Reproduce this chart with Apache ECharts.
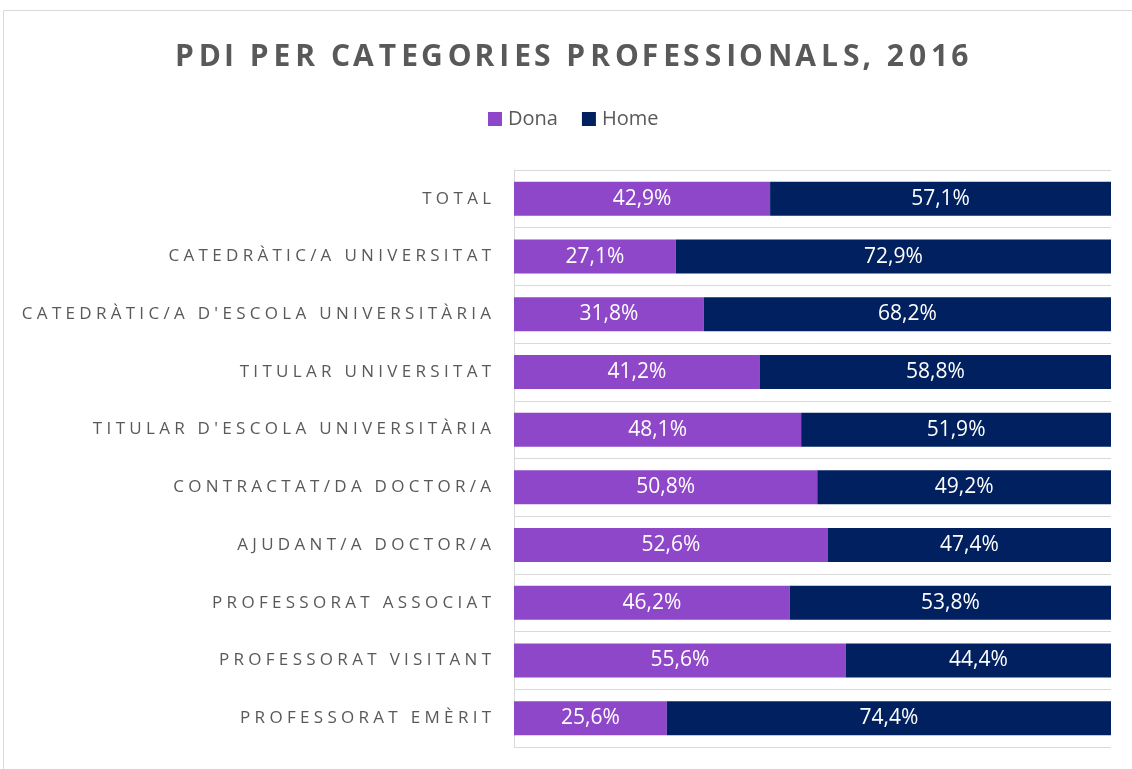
<!DOCTYPE html>
<html><head><meta charset="utf-8">
<script src="https://cdn.jsdelivr.net/npm/echarts@6/dist/echarts.min.js"></script>
<style>html,body{margin:0;padding:0;background:#fff}#c{width:1132px;height:769px}</style>
</head><body><div id="c"></div>
<script>
const titleText = "PDI PER CATEGORIES PROFESSIONALS, 2016";
const categories = ["TOTAL","CATEDRÀTIC/A UNIVERSITAT","CATEDRÀTIC/A D'ESCOLA UNIVERSITÀRIA","TITULAR UNIVERSITAT","TITULAR D'ESCOLA UNIVERSITÀRIA","CONTRACTAT/DA DOCTOR/A","AJUDANT/A DOCTOR/A","PROFESSORAT ASSOCIAT","PROFESSORAT VISITANT","PROFESSORAT EMÈRIT"];
const dona = [42.9,27.1,31.8,41.2,48.1,50.8,52.6,46.2,55.6,25.6];
const home = [57.1,72.9,68.2,58.8,51.9,49.2,47.4,53.8,44.4,74.4];
const seriesNames = ["Dona","Home"];

// emulate letter-spacing with combinations of narrow space characters
const mctx = document.createElement('canvas').getContext('2d');
const SP = ['\u200A','\u2009','\u2006','\u2008','\u2005','\u2004',' '];
function spaced(s, font, ls) {
  mctx.font = font;
  const w = c => mctx.measureText(c.repeat(10)).width / 10;
  const units = SP.map(c => ({c, w: w(c)})).filter(u => u.w > 0.3);
  const combos = [{c:'', w:0}];
  units.forEach(a => { combos.push(a); units.forEach(b => combos.push({c:a.c+b.c, w:a.w+b.w})); });
  const chars = Array.from(s);
  let out = chars[0], err = 0;
  for (let i = 1; i < chars.length; i++) {
    const target = ls + err;
    let best = combos[0];
    combos.forEach(k => { if (Math.abs(k.w - target) < Math.abs(best.w - target)) best = k; });
    err = target - best.w;
    out += best.c + chars[i];
  }
  return out;
}
const fmt = v => v.toFixed(1).replace('.', ',') + '%';
const FF = 'Open Sans';
const titleFont = 'bold 30px "Open Sans"';
const axisFont = '17px "Open Sans"';
const chart = echarts.init(document.getElementById('c'), null, {renderer:'canvas'});
const lbl = {show:true, position:'inside', color:'#fff', fontFamily:FF, fontSize:21,
  formatter: p => fmt(p.value)};
chart.setOption({
  animation:false,
  graphic:[{type:'rect', shape:{x:3.5,y:10.5,width:1140,height:780}, style:{fill:'none', stroke:'#d9d9d9', lineWidth:1}}],
  title:{text:spaced(titleText, titleFont, 4.2), left:170, top:37,
    textStyle:{fontFamily:FF, fontWeight:'bold', fontSize:30, color:'#595959'}},
  legend:{top:104, left:483, itemWidth:14, itemHeight:14, itemGap:24, icon:'rect',
    textStyle:{fontFamily:FF, fontSize:20, color:'#595959', padding:[0,0,0,1]}},
  grid:{left:514, right:21, top:170, height:577, containLabel:false},
  xAxis:{type:'value', min:0, max:100, show:false},
  yAxis:{type:'category', data:categories, inverse:true,
    axisLine:{show:true, lineStyle:{color:'#d9d9d9'}}, axisTick:{show:false},
    splitLine:{show:true, lineStyle:{color:'#d9d9d9'}},
    axisLabel:{margin:23, color:'#595959', fontFamily:FF, fontSize:17,
      formatter: v => spaced(v, axisFont, 4.3)}},
  series:[
    {name:seriesNames[0], type:'bar', stack:'t', data:dona, barWidth:'59%', itemStyle:{color:'#8E47C8'}, label:lbl},
    {name:seriesNames[1], type:'bar', stack:'t', data:home, barWidth:'59%', itemStyle:{color:'#00205F'}, label:lbl}
  ]
});
</script></body></html>
